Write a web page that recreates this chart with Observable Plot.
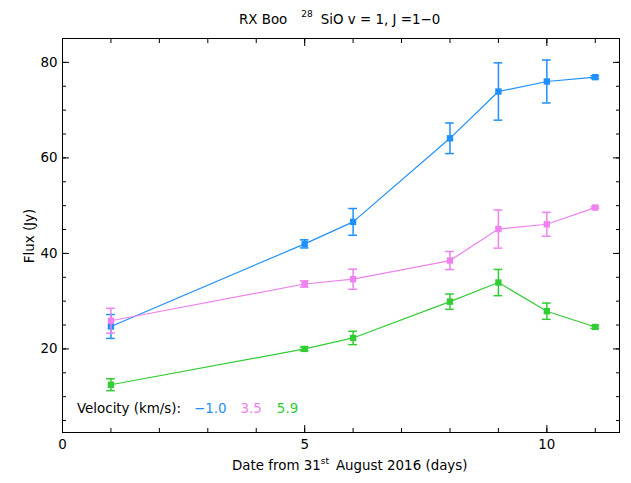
<!DOCTYPE html>
<html>
<head>
<meta charset="utf-8">
<script src="https://cdn.jsdelivr.net/npm/d3@7"></script>
<script src="https://cdn.jsdelivr.net/npm/@observablehq/plot@0.6"></script>
<style>
  html, body { margin: 0; padding: 0; background: #fff; }
  #chart svg { display: block; }
</style>
</head>
<body>
<div id="chart"></div>
<script>
// Data
const days = [1, 5, 6, 8, 9, 10, 11];
const velocityLabels = ["\u22121.0", "3.5", "5.9"];
const seriesColors = ["#1e90ff", "#ee82ee", "#32cd32"];
const fluxVm10 = [24.7, 42.0, 46.6, 64.1, 73.9, 76.0, 76.9];
const errVm10  = [2.5, 0.85, 2.8, 3.2, 6.0, 4.5, 0.3];
const fluxV35  = [25.9, 33.6, 34.6, 38.5, 45.1, 46.1, 49.6];
const errV35   = [2.6, 0.65, 2.1, 1.9, 4.0, 2.5, 0.2];
const fluxV59  = [12.5, 20.0, 22.3, 29.9, 33.9, 27.9, 24.6];
const errV59   = [1.25, 0.4, 1.4, 1.6, 2.75, 1.7, 0.3];
const xMajorTicks = [0, 5, 10];
const yMajorTicks = [20, 40, 60, 80];

const fluxes = [fluxVm10, fluxV35, fluxV59];
const errs = [errVm10, errV35, errV59];
const rows = [];
fluxes.forEach((f, s) => days.forEach((d, i) => rows.push({
  day: d, flux: f[i], err: errs[s][i], series: velocityLabels[s]
})));

const capHalf = 0.09;
const font = "DejaVu Sans";
const colorScale = {domain: velocityLabels, range: seriesColors};

const plot = Plot.plot({
  width: 631,
  height: 483,
  marginTop: 38,
  marginRight: 12,
  marginBottom: 51,
  marginLeft: 62,
  style: {fontFamily: font, fontSize: "13px", color: "black", background: "white"},
  x: {domain: [0, 11.5]},
  y: {domain: [2.5, 85]},
  color: colorScale,
  marks: [
    // axes: labels
    Plot.axisX({anchor: "bottom", ticks: xMajorTicks, tickSize: 0, tickPadding: 7, label: null, fontSize: 13.4}),
    Plot.axisY({anchor: "left", ticks: yMajorTicks, tickSize: 0, tickPadding: 5, label: null, fontSize: 13.4}),
    // inward ticks
    Plot.axisX({anchor: "bottom", ticks: xMajorTicks, tickSize: -7, fill: "none", label: null}),
    Plot.axisX({anchor: "bottom", ticks: d3.range(0, 12), tickSize: -4, fill: "none", label: null}),
    Plot.axisX({anchor: "top", ticks: xMajorTicks, tickSize: -7, fill: "none", label: null}),
    Plot.axisX({anchor: "top", ticks: d3.range(0, 12), tickSize: -4, fill: "none", label: null}),
    Plot.axisY({anchor: "left", ticks: yMajorTicks, tickSize: -7, fill: "none", label: null}),
    Plot.axisY({anchor: "left", ticks: d3.range(5, 85, 5), tickSize: -4, fill: "none", label: null}),
    Plot.axisY({anchor: "right", ticks: yMajorTicks, tickSize: -7, fill: "none", label: null}),
    Plot.axisY({anchor: "right", ticks: d3.range(5, 85, 5), tickSize: -4, fill: "none", label: null}),
    Plot.frame({stroke: "black", strokeWidth: 1}),
    // data
    ...velocityLabels.map((v) => {
      const d = rows.filter(r => r.series === v);
      return [
        Plot.line(d, {x: "day", y: "flux", stroke: "series", strokeWidth: 1.2}),
        Plot.ruleX(d, {x: "day", y1: r => r.flux - r.err, y2: r => r.flux + r.err, stroke: "series", strokeWidth: 1.5}),
        Plot.ruleY(d, {y: r => r.flux - r.err, x1: r => r.day - capHalf, x2: r => r.day + capHalf, stroke: "series", strokeWidth: 1.5}),
        Plot.ruleY(d, {y: r => r.flux + r.err, x1: r => r.day - capHalf, x2: r => r.day + capHalf, stroke: "series", strokeWidth: 1.5}),
        Plot.dot(d, {x: "day", y: "flux", fill: "series", symbol: "square", r: 3.6, stroke: null})
      ];
    })
  ]
});

const svg = d3.select(plot);

function addText(attrs) {
  const t = svg.append("text")
    .attr("font-family", font)
    .attr("font-size", 13.4)
    .attr("text-anchor", "start")
    .attr("fill", "black");
  for (const k in attrs) t.attr(k, attrs[k]);
  return t;
}

// Title
const title = addText({x: 239, y: 24});
title.append("tspan").text("RX Boo");
title.append("tspan").attr("dx", 14).attr("dy", -7).attr("font-size", 9).text("28");
title.append("tspan").attr("dx", 8).attr("dy", 7).text("SiO v = 1, J =1\u22120");

// X label
const xl = addText({x: 232, y: 470});
xl.append("tspan").text("Date from 31");
xl.append("tspan").attr("dy", -6).attr("font-size", 9).text("st");
xl.append("tspan").attr("dx", 7).attr("dy", 6).text("August 2016 (days)");

// Y label
addText({transform: "translate(34,236) rotate(-90)", "text-anchor": "middle"})
  .text("Flux (Jy)");

// Legend
const lg = addText({x: 77, y: 413});
lg.append("tspan").text("Velocity (km/s):");
const legendDx = [13, 14, 15];
velocityLabels.forEach((v, i) => {
  lg.append("tspan").attr("dx", legendDx[i]).attr("fill", seriesColors[i]).text(v);
});

document.getElementById("chart").appendChild(plot);
</script>
</body>
</html>
